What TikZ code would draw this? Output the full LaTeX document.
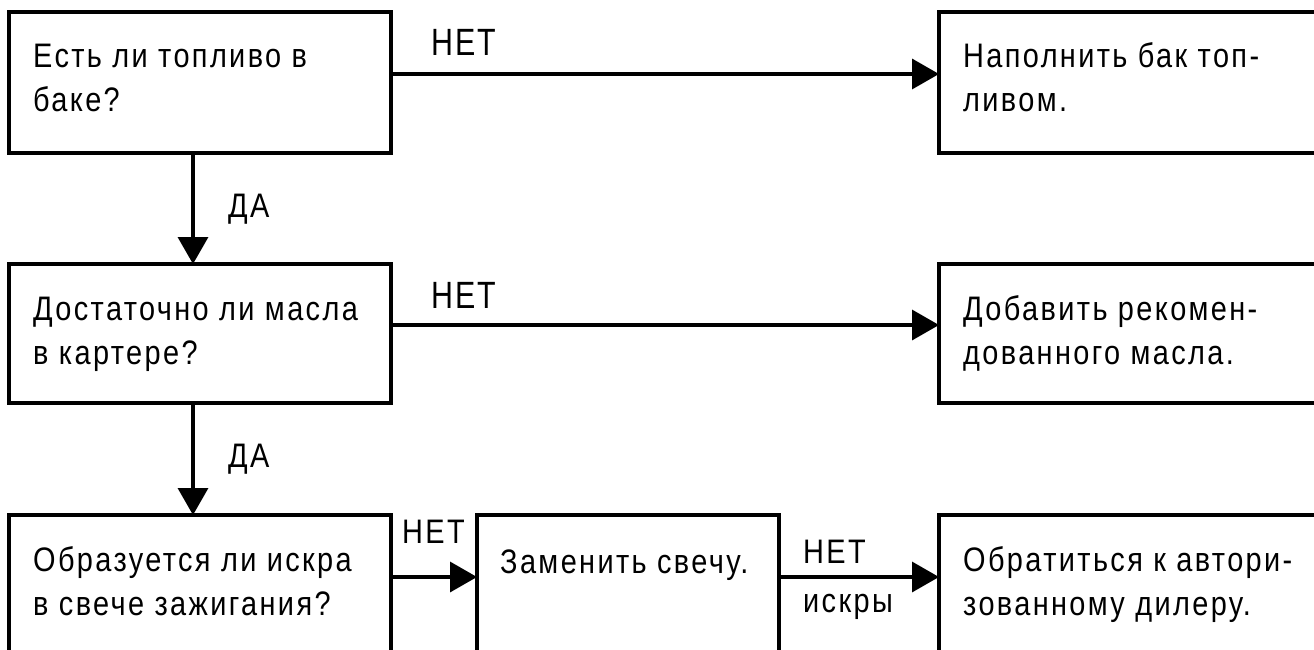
\documentclass[tikz,border=0pt]{standalone}
\usepackage{fontspec}
\setmainfont{Liberation Sans}[FakeStretch=0.85,LetterSpace=7]
\newfontfamily\lightfont{Liberation Sans}[FakeStretch=0.8,LetterSpace=6]
\usetikzlibrary{arrows.meta}
\begin{document}
\begin{tikzpicture}[x=1pt,y=-1pt,
  box/.style={draw, line width=3.8pt, inner sep=0pt, outer sep=0pt, anchor=north west},
  txt/.style={anchor=base west, inner sep=0pt, font=\fontsize{34}{40}\selectfont},
  lbl/.style={anchor=base west, inner sep=0pt, font=\fontsize{34}{40}\selectfont},
  toplbl/.style={anchor=base west, inner sep=0pt, font=\lightfont\fontsize{38}{40}\selectfont},
  arr/.style={line width=3.5pt, -{Triangle[length=27pt,width=30pt]}}]
\useasboundingbox (0,0) rectangle (1314,650);
\clip (0,0) rectangle (1314,650);
% boxes
\node[box, minimum width=382pt, minimum height=141pt] (b1) at (9,12) {};
\node[box, minimum width=420pt, minimum height=141pt] (r1) at (939,12) {};
\node[box, minimum width=382pt, minimum height=139pt] (b2) at (9,264) {};
\node[box, minimum width=420pt, minimum height=139pt] (r2) at (939,264) {};
\node[box, minimum width=382pt, minimum height=200pt] (b3) at (9,515) {};
\node[box, minimum width=302pt, minimum height=200pt] (m3) at (477,515) {};
\node[box, minimum width=420pt, minimum height=200pt] (r3) at (939,515) {};
% texts
\node[txt] (t1a) at (33,68) {Есть ли топливо в};
\node[txt] (t1b) at (33,112) {баке?};
\node[txt] (u1a) at (963,68) {Наполнить бак топ-};
\node[txt] (u1b) at (963,112) {ливом.};
\node[txt] (t2a) at (33,320) {Достаточно ли масла};
\node[txt] (t2b) at (33,364) {в картере?};
\node[txt] (u2a) at (963,320) {Добавить рекомен-};
\node[txt] (u2b) at (963,364) {дованного масла.};
\node[txt] (t3a) at (33,571) {Образуется ли искра};
\node[txt] (t3b) at (33,615) {в свече зажигания?};
\node[txt] (m3a) at (500,573) {Заменить свечу.};
\node[txt] (u3a) at (963,571) {Обратиться к автори-};
\node[txt] (u3b) at (963,615) {зованному дилеру.};
% connectors
\draw[arr] ([yshift=-62pt]b1.north east) -- ([yshift=-62pt]r1.north west);
\draw[arr] ([yshift=-61pt]b2.north east) -- ([yshift=-61pt]r2.north west);
\draw[arr] ([yshift=-62pt]b3.north east) -- ([yshift=-62pt]m3.north west);
\draw[arr] ([yshift=-62pt]m3.north east) -- ([yshift=-62pt]r3.north west);
\draw[arr] ([xshift=184pt]b1.south west) -- ([xshift=184pt]b2.north west);
\draw[arr] ([xshift=184pt]b2.south west) -- ([xshift=184pt]b3.north west);
% labels
\node[toplbl] (n1) at (431,56) {НЕТ};
\node[toplbl] (n2) at (431,308) {НЕТ};
\node[lbl] (n3) at (402,543) {НЕТ};
\node[lbl] (n4) at (803,563) {НЕТ};
\node[lbl] (n5) at (803,612) {искры};
\node[lbl] (d1) at (228,217) {ДА};
\node[lbl] (d2) at (228,467) {ДА};
\end{tikzpicture}
\end{document}
